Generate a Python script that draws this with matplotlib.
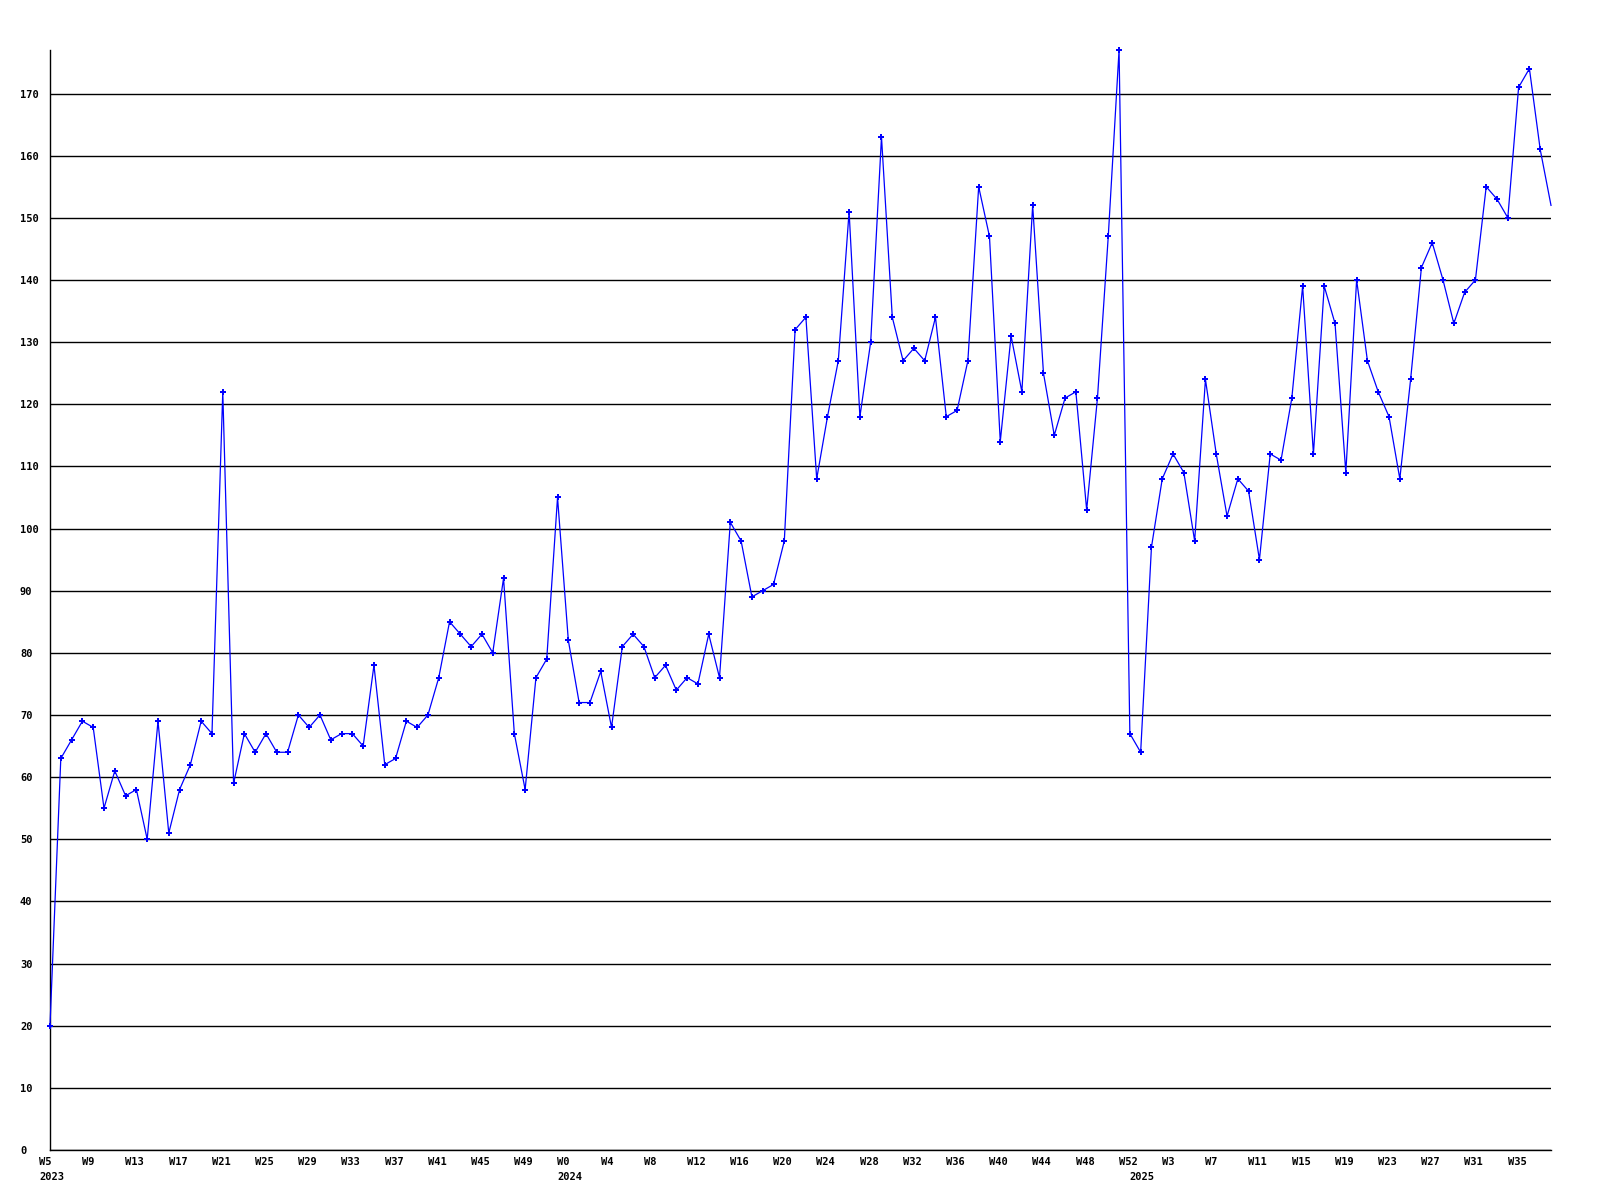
import matplotlib
matplotlib.use("Agg")
import matplotlib.pyplot as plt

# ---- data ----
weeks_2023 = list(range(5, 53))
weeks_2024 = list(range(0, 53))
weeks_2025 = list(range(0, 39))
years = ["2023", "2024", "2025"]

values = [
    20, 63, 66, 69, 68, 55, 61, 57, 58, 50, 69, 51, 58, 62, 69, 67, 122, 59, 67, 64, 67, 64, 64, 70,
    68, 70, 66, 67, 67, 65, 78, 62, 63, 69, 68, 70, 76, 85, 83, 81, 83, 80, 92, 67, 58, 76, 79, 105,
    82, 72, 72, 77, 68, 81, 83, 81, 76, 78, 74, 76, 75, 83, 76, 101, 98, 89, 90, 91, 98,
    132, 134, 108, 118, 127, 151, 118, 130, 163, 134, 127, 129, 127, 134, 118, 119, 127, 155, 147,
    114, 131, 122, 152, 125, 115, 121, 122, 103, 121, 147, 177,
    67, 64, 97, 108, 112, 109, 98, 124, 112, 102, 108, 106, 95, 112, 111, 121, 139, 112, 139, 133,
    109, 140, 127, 122, 118, 108, 124, 142, 146, 140, 133, 138, 140, 155, 153, 150, 171, 174, 161, 152,
]
y_ticks = list(range(0, 171, 10))

week_labels = ([f"W{w}" for w in weeks_2023] + [f"W{w}" for w in weeks_2024]
               + [f"W{w}" for w in weeks_2025])
x = list(range(len(values)))
year_starts = [0, len(weeks_2023), len(weeks_2023) + len(weeks_2024)]

# ---- figure ----
fig = plt.figure(figsize=(16, 12), dpi=100)
fig.patch.set_facecolor("white")
ax = fig.add_axes([50 / 1600, 50 / 1200, 1501 / 1600, 1100 / 1200])

ax.plot(x, values, color="#0000ff", linewidth=0.9, marker="P", markersize=4.2,
        markeredgewidth=0, markevery=list(range(len(values) - 1)), clip_on=False, zorder=3)

ax.set_xlim(0, len(values) - 1)
ax.set_ylim(0, 177)

for s in ["top", "right"]:
    ax.spines[s].set_visible(False)
for s in ["left", "bottom"]:
    ax.spines[s].set_color("black")
    ax.spines[s].set_linewidth(1.0)

font = dict(family="DejaVu Sans Mono", weight="bold", size=7.5)

ax.set_yticks(y_ticks)
ax.set_yticklabels([str(v) for v in y_ticks], **font)
for lab in ax.get_yticklabels():
    lab.set_ha("left")
ax.tick_params(axis="y", length=0, pad=21.6)
ax.yaxis.grid(True, color="black", linewidth=1.0)
ax.set_axisbelow(True)

tick_idx = x[::4]
ax.set_xticks(tick_idx)
ax.set_xticklabels([])
ax.tick_params(axis="x", length=0)
for i in tick_idx:
    ax.annotate(week_labels[i], xy=(i, 0), xycoords=("data", "axes fraction"),
                xytext=(-11, -12), textcoords="offset pixels",
                ha="left", va="center", **font)

for yr, i in zip(years, year_starts):
    ax.annotate(yr, xy=(i, 0), xycoords=("data", "axes fraction"),
                xytext=(-11, -27), textcoords="offset pixels",
                ha="left", va="center", **font)

fig.savefig("out.png", dpi=100)
